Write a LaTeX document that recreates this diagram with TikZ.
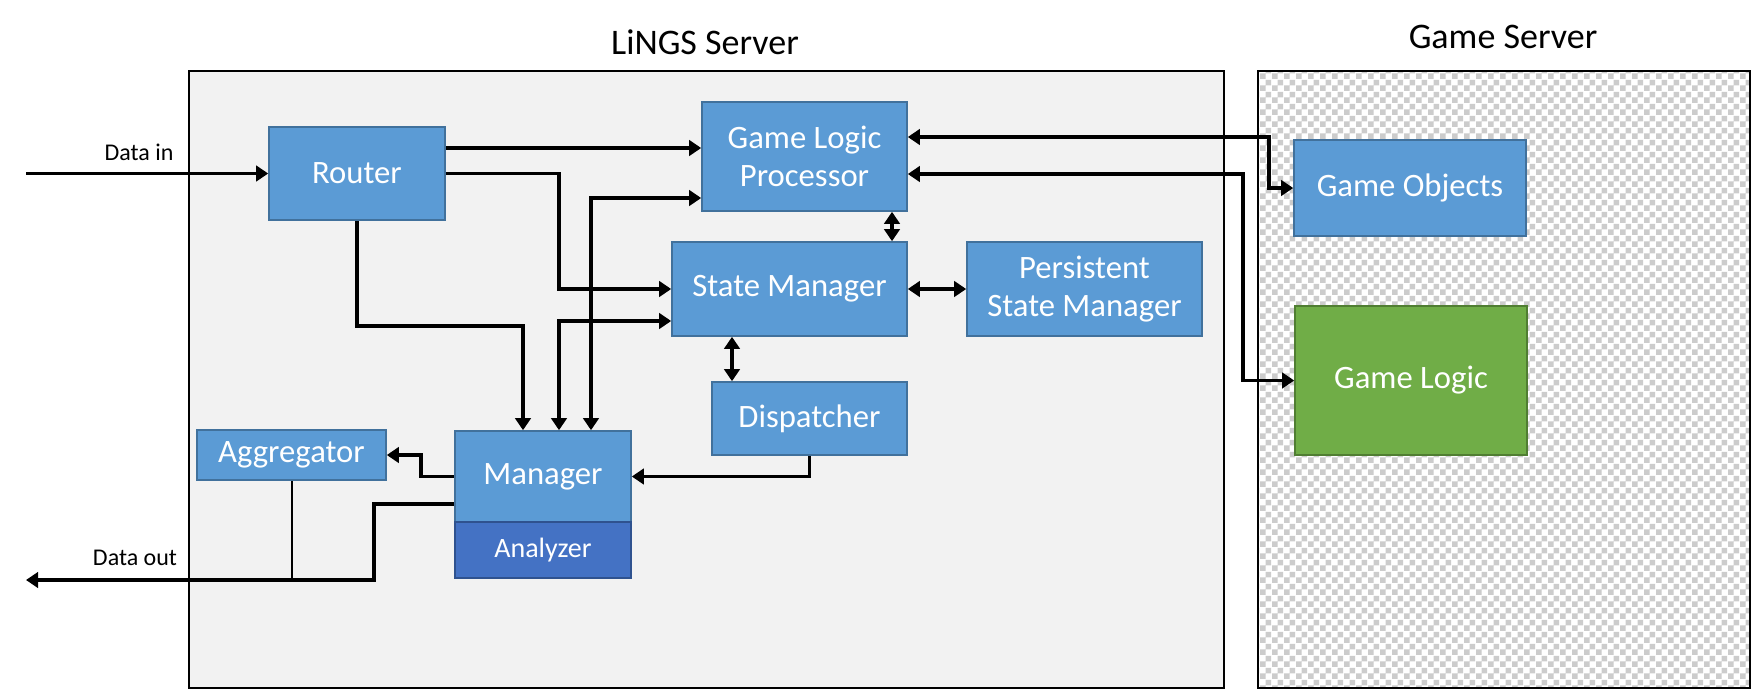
\documentclass[tikz,border=0pt]{standalone}
\usepackage{fontspec}
\setmainfont{Carlito}
\usetikzlibrary{arrows.meta,patterns}
\definecolor{boxblue}{HTML}{5B9BD5}
\definecolor{boxline}{HTML}{41719C}
\definecolor{anafill}{HTML}{4472C4}
\definecolor{analine}{HTML}{2F528F}
\definecolor{glfill}{HTML}{70AD47}
\definecolor{glline}{HTML}{507E32}
\definecolor{bgrey}{HTML}{F2F2F2}
\definecolor{chk}{HTML}{CCCCCC}
\pgfdeclarepatternformonly{checkerg}{\pgfpointorigin}{\pgfpoint{9pt}{9pt}}{\pgfpoint{9pt}{9pt}}{%
  \pgfpathrectangle{\pgfpointorigin}{\pgfpoint{4.5pt}{4.5pt}}%
  \pgfpathrectangle{\pgfpoint{4.5pt}{4.5pt}}{\pgfpoint{4.5pt}{4.5pt}}%
  \pgfusepath{fill}}
\begin{document}
\begin{tikzpicture}[x=0.75pt,y=-0.75pt,
  blk/.style={draw=boxline,line width=1.2pt,fill=boxblue,text=white,inner sep=0pt,align=center,font=\fontsize{24.5}{29}\selectfont},
  title/.style={font=\fontsize{27}{32}\selectfont,text=black},
  lbl/.style={font=\fontsize{18}{22}\selectfont,text=black},
  conn/.style={line width=2.4pt},
  arr/.style={conn,-{Triangle[width=11.5pt,length=9pt]}},
  darr/.style={conn,{Triangle[width=11.5pt,length=9pt]}-{Triangle[width=11.5pt,length=9pt]}},
  ]
\useasboundingbox (0,0) rectangle (1752,690);
\fill[white] (0,0) rectangle (1752,690);
% containers
\node[draw=black,line width=1.6pt,fill=bgrey,inner sep=0pt,minimum width=776.25pt,minimum height=462.75pt] (lings) at (706.5,379.5) {};
\fill[white] (1258,71) rectangle (1750,688);
\fill[pattern=checkerg,pattern color=chk] (1258,71) rectangle (1750,688);
\node[draw=black,line width=1.6pt,inner sep=0pt,minimum width=369pt,minimum height=462.75pt] (gsrv) at (1504,379.5) {};
\node[title] (tl) at (705,42) {LiNGS Server};
\node[title] (tg) at (1503,37) {Game Server};
% blocks
\node[blk,minimum width=132pt,minimum height=69.75pt] (router) at (357,173.5) {Router};
\node[blk,minimum width=153.75pt,minimum height=81.75pt] (glp) at (804.5,156.5) {Game Logic\\Processor};
\node[blk,minimum width=176.25pt,minimum height=70.5pt] (sm) at (789.5,289) {State Manager};
\node[blk,minimum width=176.25pt,minimum height=70.5pt] (psm) at (1084.5,289) {Persistent\\State Manager};
\node[blk,minimum width=146.25pt,minimum height=54.75pt] (disp) at (809.5,418.5) {Dispatcher};
\node[blk,minimum width=132pt,minimum height=68.25pt] (mgr) at (543,476.5) {Manager};
\node[blk,draw=analine,fill=anafill,font=\fontsize{21}{25}\selectfont,minimum width=132pt,minimum height=42pt] (ana) at (543,550) {Analyzer};
\node[blk,minimum width=141.75pt,minimum height=37.5pt] (agg) at (291.5,455) {Aggregator};
\node[blk,minimum width=174pt,minimum height=72pt] (gobj) at (1410,188) {Game Objects};
\node[blk,draw=glline,fill=glfill,minimum width=174pt,minimum height=111.75pt] (glogic) at (1411,380.5) {Game Logic};
% helper coordinates
\coordinate (din) at (26,173.5);
\coordinate (dout) at (26,580);
\coordinate (y148) at (0,148);
\coordinate (y321) at (0,321);
\coordinate (y198) at (0,198);
\coordinate (y504) at (0,504);
\coordinate (y137) at (0,137);
\coordinate (y174) at (0,174);
\coordinate (xa) at (523,0);
\coordinate (xb) at (559,0);
\coordinate (xc) at (591,0);
\coordinate (x892) at (892,0);
\coordinate (x732) at (732,0);
% labels
\node[lbl] (dinl) at (139,152) {Data in};
\node[lbl] (doutl) at (135,558) {Data out};
% connectors
\draw[arr] (din) -- (router.west);
\draw[arr] (router.east |- y148) -- (glp.west |- y148);
\draw[arr] (router.east) -| (559,289) -- (sm.west);
\draw[arr] (router.south) |- (523,326) -- (mgr.north -| xa);
\draw[darr] (sm.west |- y321) -| (mgr.north -| xb);
\draw[darr] (glp.west |- y198) -| (mgr.north -| xc);
\draw[darr] (glp.south -| x892) -- (sm.north -| x892);
\draw[darr] (sm.east) -- (psm.west);
\draw[darr] (sm.south -| x732) -- (disp.north -| x732);
\draw[arr] (disp.south) |- (mgr.east);
\draw[arr] (mgr.west) -| (421,455) -- (agg.east);
\draw[arr] (mgr.west |- y504) -| (374,580) -- (dout);
\draw[line width=1.5pt] (agg.south) -- (agg.south |- dout);
\draw[darr] (glp.east |- y137) -| (1269,188) -- (gobj.west);
\draw[darr] (glp.east |- y174) -| (1243,380.5) -- (glogic.west);
\end{tikzpicture}
\end{document}
